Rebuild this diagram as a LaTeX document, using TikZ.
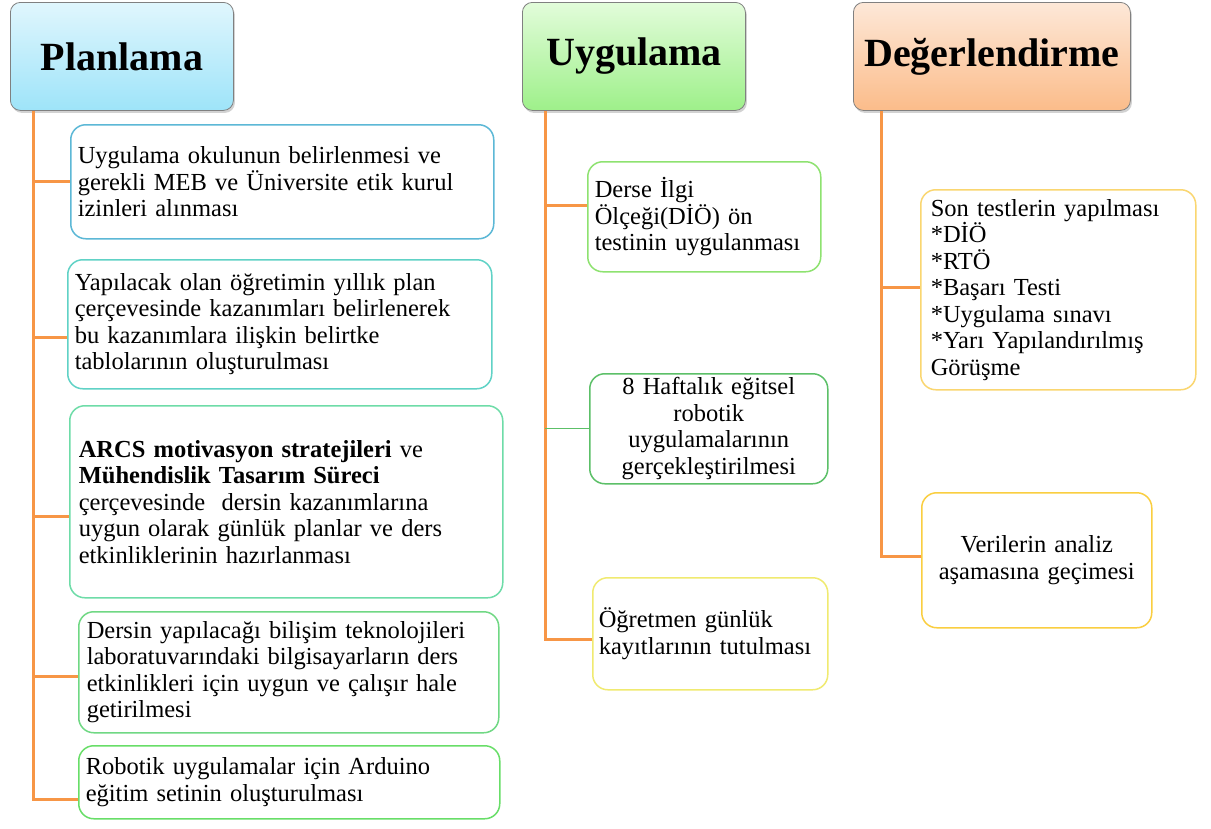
\documentclass[tikz,border=0pt]{standalone}
\usepackage{fontspec}
\setmainfont{Liberation Serif}
\usetikzlibrary{shadows}

\definecolor{linkorange}{RGB}{247,150,70}
\definecolor{planTop}{RGB}{224,246,253}
\definecolor{planBot}{RGB}{158,228,249}
\definecolor{uygTop}{RGB}{226,252,218}
\definecolor{uygBot}{RGB}{158,240,138}
\definecolor{degTop}{RGB}{253,232,216}
\definecolor{degBot}{RGB}{251,188,138}
\definecolor{boxA}{RGB}{92,184,214}
\definecolor{boxB}{RGB}{96,210,198}
\definecolor{boxC}{RGB}{110,220,168}
\definecolor{boxD}{RGB}{112,216,132}
\definecolor{boxE}{RGB}{104,222,104}
\definecolor{boxF}{RGB}{142,226,112}
\definecolor{boxG}{RGB}{92,192,104}
\definecolor{boxH}{RGB}{240,234,112}
\definecolor{boxI}{RGB}{250,214,112}
\definecolor{boxJ}{RGB}{250,206,64}

\begin{document}
\begin{tikzpicture}[x=1pt,y=-1pt,
  header/.style={draw=black!50, line width=0.8pt, rounded corners=10pt, anchor=north west,
    minimum height=108pt, inner sep=0pt, font=\fontsize{40}{44}\selectfont\bfseries,
    drop shadow={opacity=0.35, shadow xshift=1.5pt, shadow yshift=-2.5pt}},
  item/.style={line width=1.5pt, rounded corners=15pt, anchor=north west, inner ysep=0pt,
    align=left, font=\fontsize{24.5}{26.5}\selectfont},
  branch/.style={draw=linkorange, line width=3pt}
]

\fill[white] (0,0) rectangle (1211,828);
\useasboundingbox (0,0) rectangle (1211,828);

% Headers
\node[header, top color=planTop, bottom color=planBot, minimum width=223pt] (plan) at (10,2) {Planlama};
\node[header, top color=uygTop, bottom color=uygBot, minimum width=223pt] (uyg) at (522,2) {Uygulama};
\node[header, top color=degTop, bottom color=degBot, minimum width=277pt] (deg) at (853,2) {Değerlendirme};

% Planlama steps
\node[item, draw=boxA, text width=409pt, inner xsep=7pt, minimum height=114pt] (p1) at (70,124)
  {Uygulama okulunun belirlenmesi ve\\gerekli MEB ve Üniversite etik kurul\\izinleri alınması};
\node[item, draw=boxB, text width=410pt, inner xsep=7pt, minimum height=129pt] (p2) at (67,259)
  {Yapılacak olan öğretimin yıllık plan\\çerçevesinde kazanımları belirlenerek\\bu kazanımlara ilişkin belirtke\\tablolarının oluşturulması};
\node[item, draw=boxC, text width=415pt, inner xsep=9pt, minimum height=192pt] (p3) at (69,405)
  {\textbf{ARCS motivasyon stratejileri} ve\\\textbf{Mühendislik Tasarım Süreci}\\çerçevesinde\ \ dersin kazanımlarına\\uygun olarak günlük planlar ve ders\\etkinliklerinin hazırlanması};
\node[item, draw=boxD, text width=404pt, inner xsep=8pt, minimum height=121pt] (p4) at (78,611)
  {Dersin yapılacağı bilişim teknolojileri\\laboratuvarındaki bilgisayarların ders\\etkinlikleri için uygun ve çalışır hale\\getirilmesi};
\node[item, draw=boxE, text width=407pt, inner xsep=7pt, minimum height=73pt] (p5) at (78,745)
  {Robotik uygulamalar için Arduino\\eğitim setinin oluşturulması};

% Uygulama steps
\node[item, draw=boxF, text width=219pt, inner xsep=7pt, minimum height=110pt] (u1) at (587,161)
  {Derse İlgi\\Ölçeği(DİÖ) ön\\testinin uygulanması};
\node[item, draw=boxG, text width=224pt, inner xsep=7pt, minimum height=110pt, align=center] (u2) at (589,373)
  {8 Haftalık eğitsel\\robotik\\uygulamalarının\\gerçekleştirilmesi};
\node[item, draw=boxH, text width=223pt, inner xsep=6pt, minimum height=112pt] (u3) at (592,577)
  {Öğretmen günlük\\kayıtlarının tutulması};

% Degerlendirme steps
\node[item, draw=boxI, text width=255pt, inner xsep=10pt, minimum height=200pt] (d1) at (920,189)
  {Son testlerin yapılması\\{}*DİÖ\\{}*RTÖ\\{}*Başarı Testi\\{}*Uygulama sınavı\\{}*Yarı Yapılandırılmış\\Görüşme};
\node[item, draw=boxJ, text width=216pt, inner xsep=7pt, minimum height=135pt, align=center] (d2) at (921,492)
  {Verilerin analiz\\aşamasına geçimesi};

% Connectors
\coordinate (ptop) at ([xshift=23pt]plan.south west);
\coordinate (utop) at ([xshift=23pt]uyg.south west);
\coordinate (dtop) at ([xshift=28pt]deg.south west);

\foreach \b/\s in {p1/0, p2/-13, p3/-15, p4/-4, p5/-17}
  \draw[branch] ([yshift=\s pt]\b.west) -| (ptop);
\foreach \b/\s in {u1/11, u3/-6}
  \draw[branch] ([yshift=\s pt]\b.west) -| (utop);
\draw[draw=boxG, line width=1pt] (u2.west) -- (u2.west -| utop);
\foreach \b/\s in {d1/2, d2/3.5}
  \draw[branch] ([yshift=\s pt]\b.west) -| (dtop);

\end{tikzpicture}
\end{document}
